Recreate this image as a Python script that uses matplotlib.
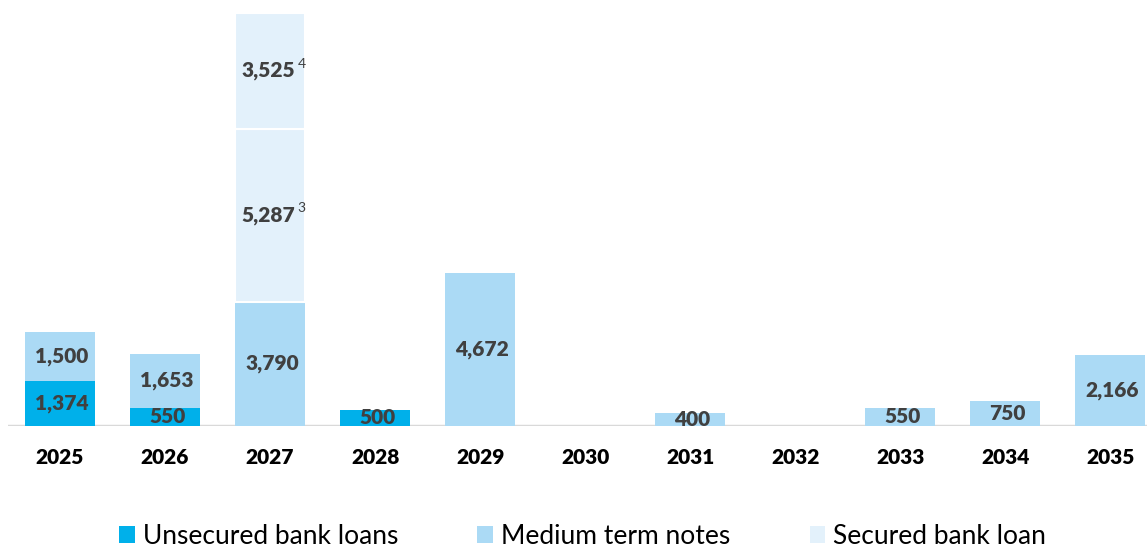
import numpy as np
import matplotlib
matplotlib.use('Agg')
import matplotlib.pyplot as plt
from matplotlib.patches import Patch

# maturity profile data
years = ['2025', '2026', '2027', '2028', '2029', '2030', '2031', '2032', '2033', '2034', '2035']
unsecured = [1374, 550, 0, 500, 0, 0, 0, 0, 0, 0, 0]
mtn = [1500, 1653, 3790, 0, 4672, 0, 400, 0, 550, 750, 2166]
secured_1 = [0, 0, 5287, 0, 0, 0, 0, 0, 0, 0, 0]
secured_2 = [0, 0, 3525, 0, 0, 0, 0, 0, 0, 0, 0]
notes = {(2, 's1'): '3', (2, 's2'): '4'}

C_UNSEC = '#00B0EA'
C_MTN = '#ABDAF5'
C_SEC = '#E3F1FB'
TXT = '#404040'
FONT = 'Lato'

plt.rcParams['font.family'] = [FONT, 'DejaVu Sans']

fig = plt.figure(figsize=(11.47, 5.47), dpi=100)
ax = fig.add_axes([8/1147, (547-426)/547, 1139/1147, (426-13)/547])

x = np.arange(len(years))
w = 0.667
u = np.array(unsecured)
m = np.array(mtn)
s1 = np.array(secured_1)
s2 = np.array(secured_2)

def bars(vals, bottom, color, **kw):
    k = vals > 0
    ax.bar(x[k], vals[k], w, bottom=bottom[k], color=color, **kw)

zero = np.zeros(len(years))
bars(u, zero, C_UNSEC, linewidth=0)
bars(m, u, C_MTN, linewidth=0)
bars(s1, u+m, C_SEC, edgecolor='white', linewidth=1.5)
bars(s2, u+m+s1, C_SEC, edgecolor='white', linewidth=1.5)

def label(xi, bottom, val, key=None):
    if val <= 0:
        return
    yc = bottom + val/2.0
    if key is not None and key in notes:
        ax.text(xi + 0.235, yc, f'{val:,}', ha='right', va='center', fontsize=15,
                fontweight='heavy', color=TXT)
        ax.annotate(notes[key], xy=(xi + 0.235, yc), xytext=(2, 5), textcoords='offset points',
                    ha='left', va='center', fontsize=10, color=TXT)
    else:
        ax.text(xi + 0.02, yc, f'{val:,}', ha='center', va='center', fontsize=15,
                fontweight='heavy', color=TXT)

for i in range(len(years)):
    label(x[i], 0, u[i])
    label(x[i], u[i], m[i])
    label(x[i], u[i]+m[i], s1[i], (i, 's1'))
    label(x[i], u[i]+m[i]+s1[i], s2[i], (i, 's2'))

ax.set_xlim(-0.495, 10.35)
ax.set_ylim(0, 12602)
ax.axhline(0, color='#D9D9D9', linewidth=2.5, zorder=0.5)
for sp in ax.spines.values():
    sp.set_visible(False)
ax.set_yticks([])
ax.set_xticks(x)
ax.set_xticklabels(years, fontsize=15, fontweight='heavy', color='black')
ax.tick_params(axis='x', length=0, pad=16)

handles = [Patch(facecolor=C_UNSEC, label='Unsecured bank loans'),
           Patch(facecolor=C_MTN, label='Medium term notes'),
           Patch(facecolor=C_SEC, label='Secured bank loan')]
fig.legend(handles=handles, loc='center', bbox_to_anchor=(0.508, 0.02), ncol=3,
           frameon=False, fontsize=19, handlelength=0.6, handleheight=0.6,
           handletextpad=0.3, columnspacing=3.0, labelcolor='black')

fig.savefig('out.png', dpi=100)
